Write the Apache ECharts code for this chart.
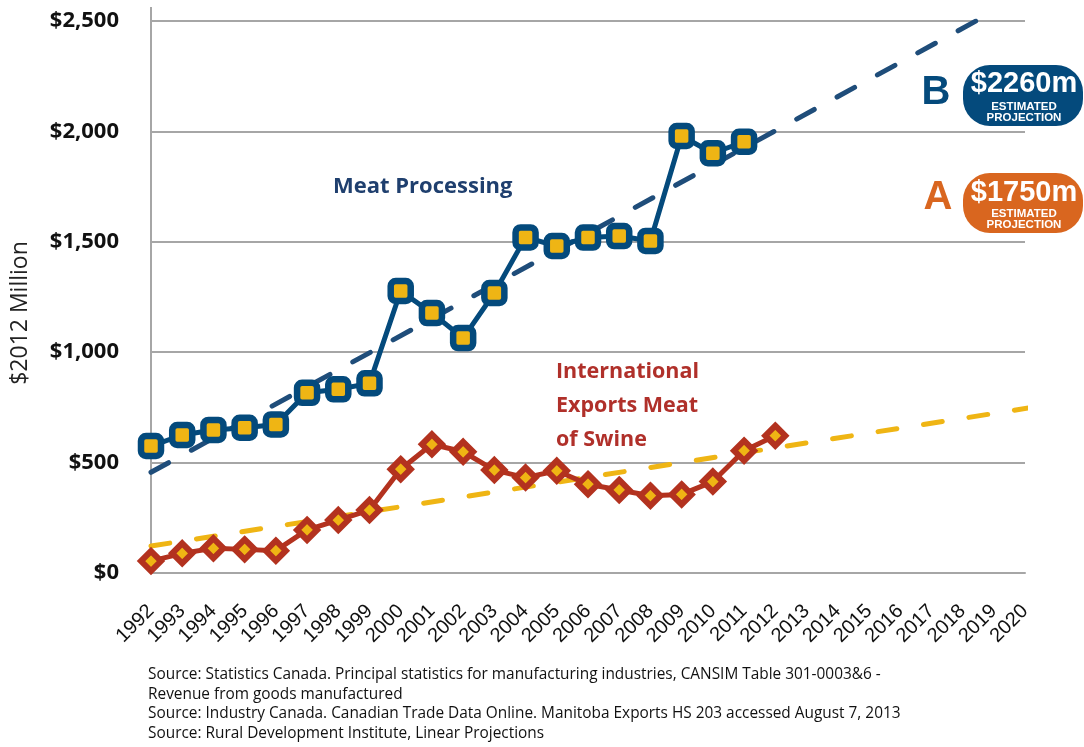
<!DOCTYPE html>
<html>
  <head>
    <meta charset="utf-8" />
    <title>Meat Processing and Exports</title>
    <style>
      html, body { margin: 0; padding: 0; background: #fff; }
      #chart { width: 1084px; height: 747px; }
    </style>
  </head>
  <body>
    <script type="text/javascript" src="https://cdn.jsdelivr.net/npm/echarts@6/dist/echarts.min.js"></script>
    <div id="chart"></div>
    <script type="text/javascript">
      // data
      var years = [1992, 1993, 1994, 1995, 1996, 1997, 1998, 1999, 2000, 2001, 2002,
        2003, 2004, 2005, 2006, 2007, 2008, 2009, 2010, 2011, 2012];
      var meatProcessing = [575, 625, 648, 658, 673, 816, 832, 859, 1277, 1177, 1064,
        1268, 1520, 1481, 1519, 1526, 1504, 1979, 1901, 1953];
      var swineExports = [54, 89, 112, 107, 101, 195, 240, 285, 470, 583, 549,
        466, 432, 463, 402, 376, 350, 356, 414, 554, 622];
      // linear projections, end points
      var meatTrend = [[1992, 456], [2018.43, 2500]];
      var swineTrend = [[1992, 122], [2020.5, 756]];
      var yTicks = [0, 500, 1000, 1500, 2000, 2500];

      var BLUE = "#044a7c";
      var RED = "#b3321f";
      var YELLOW = "#efb514";
      var ORANGE = "#d9661f";
      var GRID = "#a6a6a6";

      var toPairs = function (vals) {
        var res = [];
        for (var i = 0; i < vals.length; i++) {
          res.push([years[i], vals[i]]);
        }
        return res;
      };

      var myChart = echarts.init(document.getElementById("chart"));
      var option = {
        animation: false,
        backgroundColor: "#fff",
        grid: { left: 151, right: 59, top: 21, bottom: 174 },
        xAxis: {
          type: "value",
          min: 1992,
          max: 2020,
          interval: 1,
          axisLine: { show: true, lineStyle: { color: GRID, width: 2 } },
          axisTick: { show: false },
          splitLine: { show: false },
          axisLabel: {
            rotate: 45,
            margin: 35,
            color: "#111",
            fontFamily: "Liberation Sans",
            fontSize: 20,
            formatter: function (v) { return String(v); },
          },
        },
        yAxis: {
          type: "value",
          min: yTicks[0],
          max: yTicks[yTicks.length - 1],
          interval: 500,
          axisLine: { show: true, lineStyle: { color: GRID, width: 2 } },
          axisTick: { show: false },
          splitLine: { lineStyle: { color: GRID, width: 2 } },
          axisLabel: {
            margin: 32,
            color: "#111",
            fontFamily: "Open Sans",
            fontWeight: "bold",
            fontSize: 22,
            formatter: function (v) {
              return "$" + String(v).replace(/\B(?=(\d{3})+(?!\d))/g, ",");
            },
          },
        },
        series: [
          {
            name: "Meat trend",
            type: "line",
            data: meatTrend,
            symbol: "none",
            z: 1,
            lineStyle: { color: "#1f4d7a", width: 5, type: [20, 26], cap: "round" },
          },
          {
            name: "Swine trend",
            type: "line",
            data: swineTrend,
            symbol: "none",
            clip: false,
            z: 1,
            lineStyle: { color: YELLOW, width: 5, type: [19, 27], cap: "round" },
          },
          {
            name: "Meat Processing",
            type: "line",
            data: toPairs(meatProcessing),
            symbol: "roundRect",
            symbolSize: 20,
            z: 3,
            lineStyle: { color: BLUE, width: 5 },
            itemStyle: { color: YELLOW, borderColor: BLUE, borderWidth: 6.5 },
          },
          {
            name: "International Exports Meat of Swine",
            type: "line",
            data: toPairs(swineExports),
            symbol: "diamond",
            symbolSize: 20,
            z: 3,
            lineStyle: { color: RED, width: 5 },
            itemStyle: { color: YELLOW, borderColor: RED, borderWidth: 6 },
          },
        ],
        graphic: [
          // y axis runs a little above the top gridline
          { type: "line", shape: { x1: 151, y1: 7, x2: 151, y2: 22 }, style: { stroke: GRID, lineWidth: 2 } },
          {
            type: "text", x: 20, y: 313, rotation: Math.PI / 2,
            style: { text: "$2012 Million", fill: "#222", font: "23px 'Open Sans'", align: "center", verticalAlign: "middle" },
          },
          {
            type: "text", x: 333, y: 187,
            style: { text: "Meat Processing", fill: "#1f3f6e", font: "bold 22px 'Open Sans'", verticalAlign: "middle" },
          },
          {
            type: "text", x: 556, y: 355,
            style: { text: "International\nExports Meat\nof Swine", fill: "#b0302a", font: "bold 21.5px 'Open Sans'", lineHeight: 34, verticalAlign: "top" },
          },
          // projection badges
          {
            type: "text", x: 936, y: 93,
            style: { text: "B", fill: BLUE, font: "bold 40px 'Liberation Sans'", align: "center", verticalAlign: "middle" },
          },
          { type: "rect", shape: { x: 963, y: 65, width: 120, height: 61, r: 27 }, style: { fill: BLUE } },
          {
            type: "text", x: 1024, y: 84,
            style: { text: "$2260m", fill: "#fff", font: "bold 29px 'Liberation Sans'", align: "center", verticalAlign: "middle" },
          },
          {
            type: "text", x: 1024, y: 112,
            style: { text: "ESTIMATED\nPROJECTION", fill: "#fff", font: "bold 11.5px 'Liberation Sans'", lineHeight: 11, align: "center", verticalAlign: "middle" },
          },
          {
            type: "text", x: 938, y: 198,
            style: { text: "A", fill: ORANGE, font: "bold 40px 'Liberation Sans'", align: "center", verticalAlign: "middle" },
          },
          { type: "rect", shape: { x: 963, y: 173, width: 120, height: 60, r: 27 }, style: { fill: ORANGE } },
          {
            type: "text", x: 1024, y: 193,
            style: { text: "$1750m", fill: "#fff", font: "bold 29px 'Liberation Sans'", align: "center", verticalAlign: "middle" },
          },
          {
            type: "text", x: 1024, y: 219,
            style: { text: "ESTIMATED\nPROJECTION", fill: "#fff", font: "bold 11.5px 'Liberation Sans'", lineHeight: 11, align: "center", verticalAlign: "middle" },
          },
          // sources
          {
            type: "text", x: 148, y: 665,
            style: {
              text: "Source: Statistics Canada. Principal statistics for manufacturing industries, CANSIM Table 301-0003&6 -\nRevenue from goods manufactured\nSource: Industry Canada. Canadian Trade Data Online. Manitoba Exports HS 203 accessed August 7, 2013\nSource: Rural Development Institute, Linear Projections",
              fill: "#111", font: "15.4px 'Open Sans'", lineHeight: 19.5, verticalAlign: "top",
            },
          },
        ],
      };

      myChart.setOption(option);

      window.addEventListener("resize", function () {
        myChart.resize();
      });
    </script>
  </body>
</html>
